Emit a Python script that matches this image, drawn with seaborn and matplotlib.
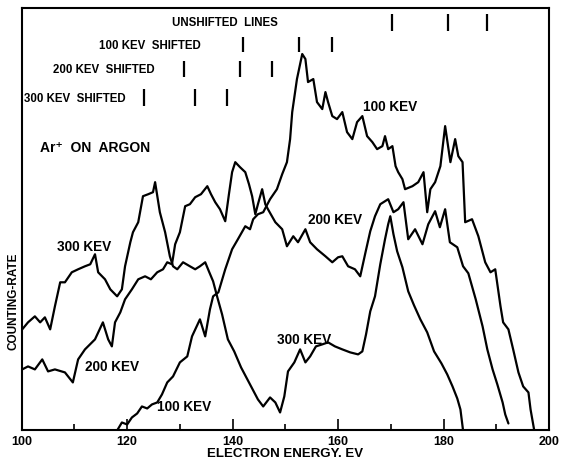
import matplotlib
matplotlib.use('Agg')
import pandas as pd
import matplotlib.pyplot as plt
import seaborn as sns

# ── Data ───────────────────────────────────────────────
# electron energy in eV, counting rate in arbitrary units
ev_100 = [118.1, 119.0, 120.0, 120.9, 121.9, 122.8, 123.8, 124.7, 125.7, 126.6,
          127.6, 128.7, 130.0, 131.4, 132.3, 133.8, 134.8, 135.7, 136.3, 137.3,
          138.6, 139.9, 141.0, 142.4, 143.3, 143.9, 144.8, 145.8, 147.1, 148.4,
          149.4, 150.3, 150.9, 151.3, 152.2, 153.2, 153.8, 154.3, 155.3, 156.0,
          157.0, 157.6, 158.1, 158.9, 159.8, 160.8, 161.7, 162.7, 163.6, 164.6,
          165.5, 166.5, 167.4, 168.4, 168.9, 169.5, 170.3, 170.9, 171.4, 172.2,
          172.7, 174.1, 175.2, 176.2, 176.9, 177.5, 178.4, 179.4, 180.3, 181.3,
          182.2, 182.8, 183.6, 184.1, 185.4, 186.6, 187.9, 188.9, 189.8, 190.8,
          191.3, 192.3, 193.2, 194.2, 195.1, 196.1, 196.5, 197.2]
rate_100 = [0, 8, 6, 13, 17, 24, 22, 26, 28, 36,
            48, 54, 68, 74, 94, 111, 94, 121, 134, 138,
            161, 181, 191, 204, 201, 211, 216, 218, 231, 241,
            256, 268, 291, 318, 351, 376, 371, 348, 351, 328,
            321, 338, 328, 314, 311, 318, 298, 291, 308, 314,
            294, 288, 281, 284, 294, 281, 284, 264, 258, 251,
            241, 244, 248, 258, 218, 241, 248, 264, 304, 268,
            291, 274, 268, 208, 211, 194, 168, 158, 161, 124,
            108, 101, 81, 58, 44, 38, 21, 0]

ev_200 = [100.1, 101.2, 102.5, 103.9, 105.0, 106.3, 108.2, 109.7, 110.7, 112.0,
          113.9, 115.4, 116.4, 117.1, 117.7, 118.7, 119.6, 120.9, 122.1, 123.4,
          124.5, 125.7, 126.8, 127.6, 128.5, 129.1, 130.0, 131.0, 131.9, 132.9,
          134.0, 135.2, 135.9, 136.7, 137.6, 138.6, 139.3, 139.9, 140.5, 141.4,
          142.4, 143.1, 143.7, 144.3, 144.8, 145.6, 146.2, 146.7, 148.1, 149.4,
          150.3, 151.5, 152.4, 153.8, 154.7, 156.0, 157.6, 158.9, 160.0, 160.8,
          161.9, 163.2, 164.2, 165.2, 166.1, 167.0, 168.0, 168.9, 169.5, 170.5,
          171.4, 172.4, 173.3, 174.6, 176.0, 177.1, 178.4, 179.3, 180.3, 181.2,
          182.6, 183.7, 184.7, 186.1, 187.4, 188.3, 189.3, 190.2, 191.2, 191.7,
          192.3]
rate_200 = [61, 64, 61, 71, 59, 61, 58, 48, 71, 81,
            91, 108, 91, 84, 108, 118, 131, 141, 151, 154,
            151, 158, 161, 168, 166, 186, 198, 224, 226, 233,
            236, 244, 236, 228, 221, 209, 236, 258, 268, 263,
            258, 246, 234, 216, 226, 241, 226, 221, 208, 201,
            184, 194, 188, 201, 188, 181, 174, 168, 173, 174,
            164, 161, 154, 178, 199, 214, 226, 229, 231, 218,
            221, 228, 191, 201, 186, 206, 219, 203, 221, 188,
            183, 164, 157, 131, 104, 81, 61, 46, 28, 16,
            7]

ev_300 = [100.1, 101.2, 102.5, 103.5, 104.4, 105.4, 106.3, 107.3, 108.2, 109.5,
          110.7, 112.0, 113.0, 113.9, 114.5, 115.8, 116.8, 118.1, 119.0, 119.6,
          120.6, 121.1, 122.1, 123.0, 124.0, 124.9, 125.3, 126.2, 127.2, 128.1,
          128.7, 129.5, 130.6, 131.9, 132.9, 133.8, 134.8, 135.5, 136.3, 137.1,
          138.0, 139.1, 140.3, 141.6, 143.3, 144.8, 145.8, 147.1, 148.1, 149.0,
          149.8, 150.5, 151.7, 152.8, 153.8, 154.7, 155.8, 157.0, 158.1, 159.4,
          160.8, 162.3, 163.8, 164.6, 165.3, 166.1, 167.0, 168.0, 168.9, 169.5,
          169.9, 170.5, 171.2, 172.2, 173.3, 174.4, 175.6, 176.9, 178.2, 179.6,
          180.7, 181.7, 182.6, 183.2, 183.7]
rate_300 = [101, 108, 114, 108, 113, 101, 124, 148, 148, 158,
            161, 164, 166, 176, 158, 151, 141, 134, 141, 164,
            188, 198, 208, 234, 236, 238, 248, 218, 198, 174,
            164, 161, 168, 164, 161, 164, 168, 159, 149, 133,
            116, 91, 79, 63, 46, 31, 24, 33, 28, 18,
            34, 59, 68, 81, 68, 74, 84, 86, 88, 84,
            81, 78, 76, 79, 96, 119, 134, 166, 191, 206,
            214, 196, 179, 163, 139, 125, 111, 98, 79, 67,
            56, 44, 32, 21, 0]

# line positions (eV) marked at the top of the chart
unshifted_lines = [170.2, 180.8, 188.2]
shifted_100 = [141.9, 152.5, 158.9]
shifted_200 = [130.8, 141.4, 147.4]
shifted_300 = [123.2, 132.9, 138.9]

x_ticks = [100, 120, 140, 160, 180, 200]
x_minor = [110, 130, 150, 170, 190]
# ───────────────────────────────────────────────────────


def build_frame():
    parts = []
    for beam, ev, rate in [('100 KEV', ev_100, rate_100),
                           ('200 KEV', ev_200, rate_200),
                           ('300 KEV', ev_300, rate_300)]:
        parts.append(pd.DataFrame({'energy': ev, 'rate': rate, 'beam': beam}))
    return pd.concat(parts, ignore_index=True)


def plot():
    sns.set_style('white')
    plt.rcParams['font.family'] = ['Liberation Sans', 'DejaVu Sans']
    plt.rcParams['font.weight'] = 'bold'
    plt.rcParams['text.color'] = 'black'
    plt.rcParams['axes.labelcolor'] = 'black'
    plt.rcParams['xtick.color'] = 'black'

    df = build_frame()
    fig = plt.figure(figsize=(5.62, 4.6), dpi=100)
    ax = fig.add_axes([0.0386, 0.062, 0.9383, 0.9185])

    sns.lineplot(data=df, x='energy', y='rate', hue='beam',
                 palette={'100 KEV': 'black', '200 KEV': 'black', '300 KEV': 'black'},
                 estimator=None, sort=False, legend=False, lw=1.6, ax=ax)

    # Marker rows for shifted / unshifted lines
    rows = [(unshifted_lines, 399, 416, 'UNSHIFTED  LINES', 138.6, 'center'),
            (shifted_100, 378, 393, '100 KEV  SHIFTED', 133.9, 'right'),
            (shifted_200, 353, 369, '200 KEV  SHIFTED', 125.3, 'right'),
            (shifted_300, 324, 341, '300 KEV  SHIFTED', 119.8, 'right')]
    for lines, lo, hi, label, lx, ha in rows:
        ax.vlines(lines, lo, hi, color='black', lw=1.6)
        ax.text(lx, (lo + hi) / 2, label, ha=ha, va='center',
                fontsize=8.3, fontweight='bold')

    # Curve labels
    for lx, ly, label in [(106.7, 184, '300 KEV'), (112.0, 64, '200 KEV'),
                          (125.7, 24, '100 KEV'), (154.3, 211, '200 KEV'),
                          (148.4, 91, '300 KEV'), (164.8, 324, '100 KEV')]:
        ax.text(lx, ly, label, ha='left', va='center', fontsize=9.8, fontweight='bold')
    ax.text(103.5, 283, 'Ar\u207a  ON  ARGON', ha='left', va='center',
            fontsize=10, fontweight='bold')

    ax.set_xlim(100, 200)
    ax.set_ylim(0, 422)
    ax.set_xticks(x_ticks)
    ax.set_xticks(x_minor, minor=True)
    ax.set_yticks([])
    ax.tick_params(axis='x', which='major', direction='in', length=8, width=1.2,
                   labelsize=9, pad=3, bottom=True, colors='black')
    ax.tick_params(axis='x', which='minor', direction='in', length=4, width=1.2,
                   bottom=True, colors='black')
    for lbl in ax.get_xticklabels():
        lbl.set_fontweight('bold')
    for s in ax.spines.values():
        s.set_visible(True)
        s.set_color('black')
        s.set_linewidth(1.5)

    ax.set_xlabel('ELECTRON ENERGY. EV', fontsize=9.5, fontweight='bold', labelpad=0)
    ax.set_ylabel('COUNTING-RATE', fontsize=8.5, fontweight='bold')
    ax.yaxis.set_label_coords(-0.004, 0.309)

    fig.savefig('out.png', dpi=100, facecolor='white')
    plt.close(fig)


if __name__ == '__main__':
    plot()
